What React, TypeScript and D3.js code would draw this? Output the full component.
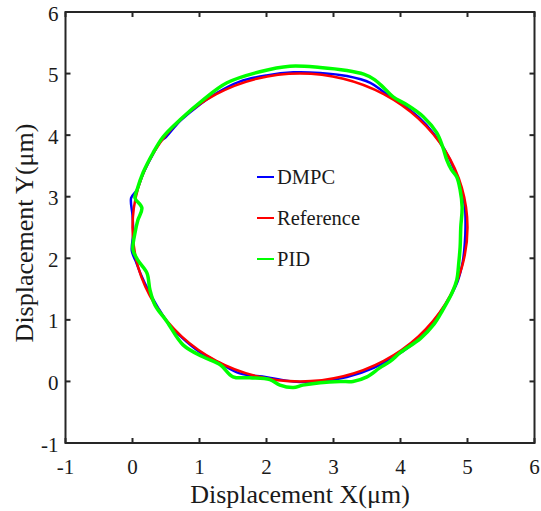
import React from "react";
import * as d3 from "d3";

// Reference trajectory (circle, centre (2.5, 2.5), radius 2.5) sampled every 15°
const refX = [5.0, 4.915, 4.665, 4.268, 3.75, 3.147, 2.5, 1.853, 1.25, 0.732, 0.335, 0.085, 0.0, 0.085, 0.335, 0.732, 1.25, 1.853, 2.5, 3.147, 3.75, 4.268, 4.665, 4.915];
const refY = [2.5, 3.147, 3.75, 4.268, 4.665, 4.915, 5.0, 4.915, 4.665, 4.268, 3.75, 3.147, 2.5, 1.853, 1.25, 0.732, 0.335, 0.085, 0.0, 0.085, 0.335, 0.732, 1.25, 1.853];

// DMPC tracking result
const dmpcX = [4.97, 4.96, 4.9, 4.8, 4.65, 4.5, 4.27, 4.0, 3.75, 3.55, 3.2, 2.8, 2.4, 2.0, 1.6, 1.25, 0.95, 0.7, 0.5, 0.42, 0.32, 0.17, 0.06, -0.02, 0.0, 0.01, -0.01, 0.05, 0.12, 0.25, 0.38, 0.55, 0.75, 1.0, 1.3, 1.6, 2.0, 2.4, 2.8, 3.2, 3.6, 3.95, 4.15, 4.3, 4.5, 4.7, 4.85, 4.93, 4.96];
const dmpcY = [2.5, 2.85, 3.15, 3.45, 3.78, 4.02, 4.29, 4.52, 4.7, 4.85, 4.96, 5.01, 5.02, 4.97, 4.87, 4.68, 4.45, 4.22, 3.97, 3.9, 3.72, 3.4, 3.1, 2.98, 2.7, 2.4, 2.12, 1.95, 1.75, 1.45, 1.2, 0.92, 0.7, 0.48, 0.3, 0.13, 0.07, 0.0, 0.0, 0.07, 0.22, 0.43, 0.58, 0.72, 0.98, 1.3, 1.62, 1.95, 2.25];

// PID tracking result
const pidX = [4.9, 4.92, 4.89, 4.84, 4.76, 4.69, 4.63, 4.54, 4.34, 4.1, 3.89, 3.74, 3.6, 3.45, 3.2, 2.8, 2.35, 1.9, 1.41, 1.05, 0.71, 0.455, 0.306, 0.157, 0.067, 0.037, 0.14, 0.08, 0.037, 0.007, 0.08, 0.216, 0.26, 0.336, 0.515, 0.754, 1.05, 1.31, 1.5, 1.75, 2.05, 2.2, 2.4, 2.54, 2.8, 3.1, 3.29, 3.5, 3.69, 3.85, 4.0, 4.3, 4.5, 4.63, 4.77, 4.84, 4.87, 4.89];
const pidY = [2.51, 2.83, 3.11, 3.32, 3.44, 3.6, 3.81, 4.04, 4.3, 4.49, 4.62, 4.78, 4.91, 4.99, 5.05, 5.1, 5.12, 5.03, 4.85, 4.57, 4.25, 3.97, 3.71, 3.39, 3.11, 2.98, 2.82, 2.62, 2.41, 2.14, 1.97, 1.76, 1.49, 1.24, 0.97, 0.594, 0.4, 0.27, 0.075, 0.06, 0.03, -0.06, -0.1, -0.06, -0.02, 0.0, 0.0, 0.075, 0.22, 0.33, 0.47, 0.7, 0.93, 1.16, 1.44, 1.65, 1.93, 2.18];

const xTicks = [-1, 0, 1, 2, 3, 4, 5, 6];
const yTicks = [-1, 0, 1, 2, 3, 4, 5, 6];

const seriesNames = ["DMPC", "Reference", "PID"];
const seriesColors = ["#0000ff", "#ff0000", "#00ff00"];

const W = 541;
const H = 511;
const left = 65.5;
const right = 534.5;
const top = 12;
const bottom = 443;
const font = "'Liberation Serif', 'Times New Roman', serif";
const axisColor = "#262626";
const textColor = "#1a1a1a";

export default function App() {
  const x = d3.scaleLinear().domain([-1, 6]).range([left, right]);
  const y = d3.scaleLinear().domain([-1, 6]).range([bottom, top]);

  const toPts = (xs: number[], ys: number[]) => xs.map((v, i) => [v, ys[i]] as [number, number]);
  const line = d3
    .line<[number, number]>()
    .x((d) => x(d[0]))
    .y((d) => y(d[1]))
    .curve(d3.curveCatmullRomClosed.alpha(0.5));

  const series = [
    { pts: toPts(dmpcX, dmpcY), w: 2.5 },
    { pts: toPts(refX, refY), w: 2.5 },
    { pts: toPts(pidX, pidY), w: 3.5 },
  ];

  const tickLen = 5;
  const legendY = [177, 218, 259];

  return (
    <svg width={W} height={H} style={{ position: "absolute", left: 0, top: 0, background: "#fff" }}>
      <rect x={0} y={0} width={W} height={H} fill="#fff" />
      {series.map((s, i) => (
        <path key={i} d={line(s.pts) || ""} fill="none" stroke={seriesColors[i]} strokeWidth={s.w} strokeLinejoin="round" />
      ))}

      {/* axes box */}
      <rect x={left} y={top} width={right - left} height={bottom - top} fill="none" stroke={axisColor} strokeWidth={2} />
      {xTicks.map((t) => (
        <g key={"x" + t}>
          <line x1={x(t)} x2={x(t)} y1={bottom} y2={bottom - tickLen} stroke={axisColor} strokeWidth={2} />
          <line x1={x(t)} x2={x(t)} y1={top} y2={top + tickLen} stroke={axisColor} strokeWidth={2} />
          <text x={x(t)} y={bottom + 31} textAnchor="middle" fontFamily={font} fontSize={21} fill={textColor}>
            {t}
          </text>
        </g>
      ))}
      {yTicks.map((t) => (
        <g key={"y" + t}>
          <line x1={left} x2={left + tickLen} y1={y(t)} y2={y(t)} stroke={axisColor} strokeWidth={2} />
          <line x1={right} x2={right - tickLen} y1={y(t)} y2={y(t)} stroke={axisColor} strokeWidth={2} />
          <text x={left - 7} y={y(t) + 8.5} textAnchor="end" fontFamily={font} fontSize={21} fill={textColor}>
            {t}
          </text>
        </g>
      ))}

      <text x={300} y={503} textAnchor="middle" fontFamily={font} fontSize={26} fill={textColor}>
        Displacement X(μm)
      </text>
      <text
        transform={`translate(33, 233) rotate(-90)`}
        textAnchor="middle"
        fontFamily={font}
        fontSize={26}
        fill={textColor}
      >
        Displacement Y(μm)
      </text>

      {/* legend */}
      {seriesNames.map((n, i) => (
        <g key={n}>
          <line x1={257} x2={274} y1={legendY[i]} y2={legendY[i]} stroke={seriesColors[i]} strokeWidth={2} />
          <text x={277} y={legendY[i] + 7} fontFamily={font} fontSize={20.5} fill={textColor}>
            {n}
          </text>
        </g>
      ))}
    </svg>
  );
}
